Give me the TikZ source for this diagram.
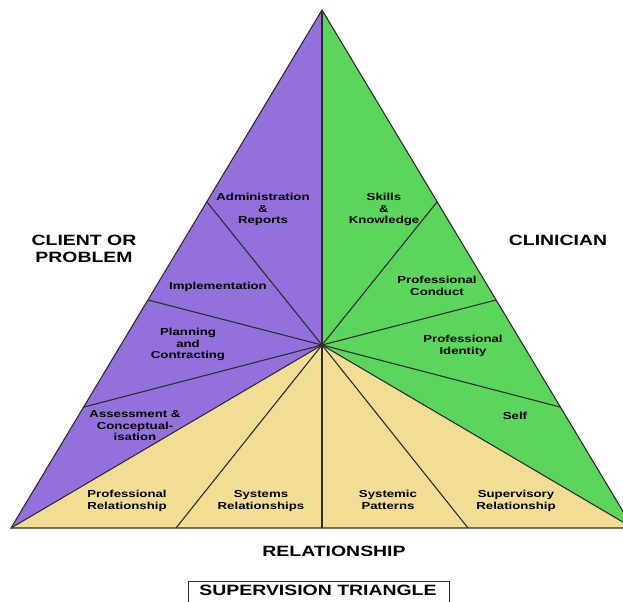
\documentclass[tikz,border=0pt]{standalone}
\usepackage{fontspec}
\setmainfont{Liberation Sans}
\usepackage{graphicx}
\definecolor{cpurple}{RGB}{148,112,220}
\definecolor{cgreen}{RGB}{92,213,92}
\definecolor{cyellow}{RGB}{242,221,148}
\definecolor{cline}{RGB}{45,45,45}
\newcommand\smalllab[1]{\scalebox{1.3}[1]{\fontsize{10.2}{11.5}\selectfont\bfseries\begin{tabular}{@{}c@{}}#1\end{tabular}}}
\newcommand\biglab[1]{\scalebox{1.3}[1]{\fontsize{15}{17}\selectfont\bfseries\begin{tabular}{@{}c@{}}#1\end{tabular}}}
\tikzset{
  seg/.style={draw=cline, line width=1.1bp},
  lab/.style={inner sep=0pt, outer sep=0pt, text=black},
}
\begin{document}
\begin{tikzpicture}[x=1bp, y=-1bp]
\useasboundingbox (0,0) rectangle (623,602);
\begin{scope}
\clip (0,0) rectangle (623,602);
% vertices
\coordinate (A) at (322,10);
\coordinate (C) at (322,345);
\coordinate (L) at (11,528);
\coordinate (R) at (633,528);
\coordinate (P1) at (207,202);
\coordinate (P2) at (148,300);
\coordinate (P3) at (84,407);
\coordinate (Q1) at (437,202);
\coordinate (Q2) at (496,300);
\coordinate (Q3) at (560,407);
\coordinate (B1) at (176,528);
\coordinate (B2) at (322,528);
\coordinate (B3) at (468,528);
% fills
\fill[cpurple] (A) -- (L) -- (C) -- cycle;
\fill[cgreen] (A) -- (C) -- (R) -- cycle;
\fill[cyellow] (L) -- (R) -- (C) -- cycle;
% dividers
\foreach \p in {A,P1,P2,P3,L,B1,B2,B3,R,Q1,Q2,Q3}
  \draw[seg] (C) -- (\p);
\draw[seg, line join=miter] (A) -- (L) -- (R) -- cycle;
\end{scope}
% segment labels
\node[lab] (adm) at (263,210) {\smalllab{Administration\\\&\\Reports}};
\node[lab] (impl) at (218,287) {\smalllab{Implementation}};
\node[lab] (plan) at (188,345) {\smalllab{Planning\\and\\Contracting}};
\node[lab] (assess) at (135,427) {\smalllab{Assessment \&\\Conceptual-\\isation}};
\node[lab] (profrel) at (127,501) {\smalllab{Professional\\Relationship}};
\node[lab] (sysrel) at (261,501) {\smalllab{Systems\\Relationships}};
\node[lab] (syspat) at (388,501) {\smalllab{Systemic\\Patterns}};
\node[lab] (suprel) at (516,501) {\smalllab{Supervisory\\Relationship}};
\node[lab] (skills) at (384,210) {\smalllab{Skills\\\&\\Knowledge}};
\node[lab] (conduct) at (437,287) {\smalllab{Professional\\Conduct}};
\node[lab] (identity) at (463,346) {\smalllab{Professional\\Identity}};
\node[lab] (self) at (515,417) {\smalllab{Self}};
% corner labels
\node[lab] (client) at (84,251) {\biglab{CLIENT OR\\PROBLEM}};
\node[lab] (clinician) at (558,242) {\biglab{CLINICIAN}};
\node[lab] (relationship) at (334,553) {\biglab{RELATIONSHIP}};
% title box
\draw[draw=cline, line width=1bp] (188,581) rectangle (449,605);
\node[lab] (title) at (318,592) {\biglab{SUPERVISION TRIANGLE}};
\end{tikzpicture}
\end{document}
